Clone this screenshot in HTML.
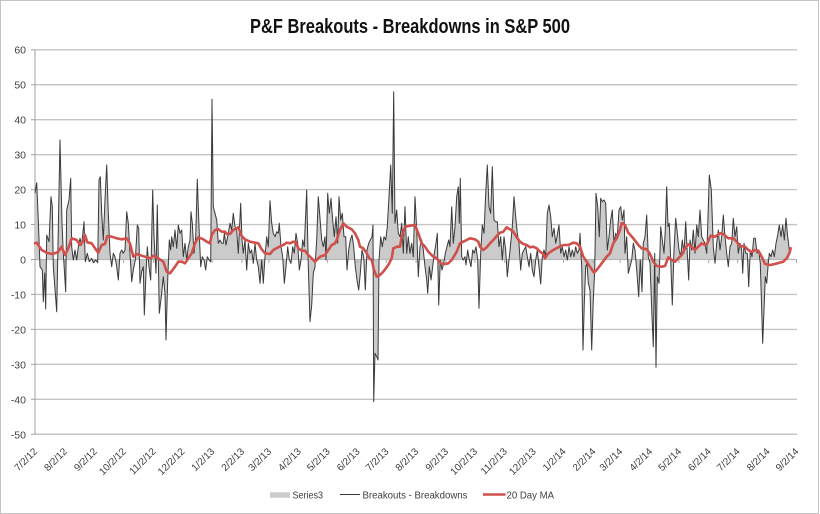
<!DOCTYPE html>
<html>
<head>
<meta charset="utf-8">
<style>
html,body{margin:0;padding:0;background:#fff;}
svg{display:block;}
text{font-family:"Liberation Sans",Arial,sans-serif;}
</style>
</head>
<body>
<svg width="820" height="514" viewBox="0 0 820 514" xmlns="http://www.w3.org/2000/svg">
<rect x="0" y="0" width="820" height="514" fill="#fff"/>
<rect x="0.5" y="0.5" width="818" height="513" fill="none" stroke="#c4c4c4" stroke-width="1"/>

<!-- Title -->
<text x="250" y="33" font-size="20" font-weight="bold" fill="#111" textLength="320" lengthAdjust="spacingAndGlyphs">P&amp;F Breakouts - Breakdowns in S&amp;P 500</text>

<!-- Gridlines -->
<g stroke="#c4c4c4" stroke-width="1.4">
<line x1="35" x2="797" y1="49.8" y2="49.8"/>
<line x1="35" x2="797" y1="84.75" y2="84.75"/>
<line x1="35" x2="797" y1="119.7" y2="119.7"/>
<line x1="35" x2="797" y1="154.65" y2="154.65"/>
<line x1="35" x2="797" y1="189.6" y2="189.6"/>
<line x1="35" x2="797" y1="224.55" y2="224.55"/>
<line x1="35" x2="797" y1="294.45" y2="294.45"/>
<line x1="35" x2="797" y1="329.4" y2="329.4"/>
<line x1="35" x2="797" y1="364.35" y2="364.35"/>
<line x1="35" x2="797" y1="399.3" y2="399.3"/>
<line x1="35" x2="797" y1="434.25" y2="434.25"/>
</g>

<!-- Y axis -->
<line x1="35" x2="35" y1="49.8" y2="434.25" stroke="#a0a0a0" stroke-width="1"/>
<g stroke="#a0a0a0" stroke-width="1">
<line x1="31" x2="35" y1="49.8" y2="49.8"/>
<line x1="31" x2="35" y1="84.75" y2="84.75"/>
<line x1="31" x2="35" y1="119.7" y2="119.7"/>
<line x1="31" x2="35" y1="154.65" y2="154.65"/>
<line x1="31" x2="35" y1="189.6" y2="189.6"/>
<line x1="31" x2="35" y1="224.55" y2="224.55"/>
<line x1="31" x2="35" y1="259.5" y2="259.5"/>
<line x1="31" x2="35" y1="294.45" y2="294.45"/>
<line x1="31" x2="35" y1="329.4" y2="329.4"/>
<line x1="31" x2="35" y1="364.35" y2="364.35"/>
<line x1="31" x2="35" y1="399.3" y2="399.3"/>
<line x1="31" x2="35" y1="434.25" y2="434.25"/>
</g>
<g font-size="10.5" fill="#404040" text-anchor="end">
<text x="26" y="53.5">60</text>
<text x="26" y="88.5">50</text>
<text x="26" y="123.5">40</text>
<text x="26" y="158.5">30</text>
<text x="26" y="193.5">20</text>
<text x="26" y="228.5">10</text>
<text x="26" y="263.5">0</text>
<text x="26" y="298.5">-10</text>
<text x="26" y="333.5">-20</text>
<text x="26" y="368.5">-30</text>
<text x="26" y="403.5">-40</text>
<text x="26" y="438.5">-50</text>
</g>

<!-- Series3 area -->
<path fill="#cbcbcb" stroke="none" d="M35,259.5 L35,193.3 36.7,182.7 38.3,220 40,266.7 42.3,270 43.3,301.7 44.7,273 45.7,309 46.7,235 49,241.7 51,196.7 52.3,206.7 53.3,266.7 56.7,311.7 60,140 62,223.3 63.3,253.3 65.7,291.7 66.7,210 69,200 70.7,178.3 71.7,246.7 73.3,260 75,250 76.7,260 78.3,246.7 80,238.3 81.7,245 84,221.7 85.3,261.7 87.3,253.3 89.3,261.7 91.7,258.3 93.3,262.7 95.7,260 97.7,262.7 99,180 100.3,176.7 101.7,213.3 103.3,240 105,200 106.7,165 108.3,213.3 110,253.3 111.7,266.7 113.3,253.3 115,256.7 116.7,266.7 118.3,280 120,253.3 121.7,250 123.3,253.3 125,250 126.7,211.7 128.3,223.3 130,253.3 131.7,281.7 133.3,270 135.3,260 137.3,225 138.7,228.3 140,283.3 141.7,271.7 143.3,266.7 144.3,315 146,273.3 147.3,246.7 149,266.7 150.7,280 152.7,190 154,236.7 156,273.3 157.3,205 159.3,313.3 161.7,293.3 163.3,276.7 165,293.3 166,340 167.7,280 169.3,240 170.7,250 171.7,236.7 173.3,246.7 175,230 176.7,248.3 178.3,225 180,233.3 181.7,230 183.3,256.7 185,243.3 186.7,260 188.3,246.7 190,240 191,211.7 192.3,223.3 194,253.3 195.7,236.7 197.3,179.3 199,226.7 200.7,266.7 202.3,256.7 204,260 205.7,270 207.3,256.7 209,260 210.7,261.7 212,99.3 213.3,206.7 215,213.3 216.7,220 218.3,243.3 220,240 221.7,243.3 223.3,243.3 224.3,233.3 226,245 228.3,233.3 230,223.3 231.7,230 233.3,213.3 235,226.7 236.7,230 238.3,253.3 240.7,203.3 242,240 243.3,253.3 245,240 246.7,270 248.3,243.3 250,253.3 251.7,250 253.3,263.3 255,243.3 256.7,260 258.3,266.7 260,283.3 261.7,260 263.3,283.3 265,256.7 266.7,236.7 268.3,246.7 270,200.7 271.7,223.3 273.3,233.3 275,236.7 276.7,231.7 278.3,233.3 279.3,223.3 281,246.7 282.7,256.7 284.3,283.3 286,266.7 287.7,246.7 289.3,260 291,263.3 292.7,246.7 294.3,253.3 296,233.3 297.7,243.3 299.3,270 301,260 302.7,240 304.3,246.7 306.7,190 308.3,266.7 310,321.7 311.7,305 313.3,273.3 315,266.7 316.7,240 318.3,196.7 321.7,240 323.3,246.7 325,236.7 326,260 327.7,193.3 329.3,213.3 331,198.3 332.7,220 334.3,236.7 336,216.7 337.7,243.3 339,196.7 340.7,220 342.3,213.3 344,236.7 345.7,236.7 347,270 348.7,250 350.3,240 352,235 353.7,246.7 355.3,266.7 357,280 358.7,290 360.3,273.3 362,250 363.7,256.7 365.3,290 367,250 368.7,243.3 370.3,240 372,236.7 373,225 373.7,401.7 375,353.3 376.7,356.7 378,360 379,260 380.7,236.7 382.3,246.7 384,236.7 385.7,240 387.3,226.7 389,196.7 390.7,165 392.3,213.3 393.7,91.7 395,223.3 396.7,210 398.3,233.3 400,236.7 401.7,223.3 403.3,253.3 405,206.7 406.7,253.3 408.3,236.7 410,253.3 411.7,243.3 413.3,256.7 415,196.7 416.7,230 418.3,276.7 420,246.7 421.7,240 423.3,250 425,266.7 426.7,280 427.7,293.3 429.3,266.7 431,280 432.7,266.7 434.3,253.3 436,243.3 437.3,233.3 438.7,305 440.3,260 442,270 443.7,263.3 445.3,253.3 447,246.7 448.7,240 450,246.7 451.7,206.7 453.3,243.3 455,226.7 456.7,196.7 458.3,186.7 459.3,223.3 460.3,178.3 461.7,256.7 463.3,260 465,256.7 466,265 467.7,250 469.3,260 471,266.7 472.7,250 474.3,253.3 476,246.7 477.7,260 479,308.3 480.7,253.3 482.3,225 484,233.3 485.7,193.3 487.3,165 489,206.7 490.7,213.3 492.3,166.7 494,220 495.7,221.7 497.3,221.7 499,246.7 500.7,236.7 502.3,260 504,236.7 505.7,250 507.3,276.7 509,260 510.7,243.3 512.3,226.7 514,196.7 515.7,216.7 517.3,233.3 519,243.3 520.7,270 522.3,253.3 524,250 525.7,246.7 527.3,256.7 529,266.7 530.7,253.3 532.3,270 534,276.7 535.7,260 537.3,250 539,266.7 540.7,284 542.3,256.7 544,250 545.7,256.7 547.3,213.3 549,205 550.7,216.7 552.3,236.7 554,228.3 555.7,243.3 557.3,235 559,225 560.7,253.3 562.3,246.7 564,256.7 565.7,250 567.3,260 569,246.7 570.7,256.7 572.3,250 574,256.7 575.7,246.7 577.3,253.3 579,250 580,233.3 581.7,266.7 583,350 584.3,303.3 585.7,266.7 587,263.3 588.3,283.3 590,290 591.7,350 593.3,300 594.7,270 596,193.3 597.7,206.7 599.3,236.7 600.7,198.3 602.3,201.7 604,200 605.7,203.3 607.3,250 609,236.7 610.7,220 612.3,210 614,243.3 615.7,233.3 617.3,236.7 619,210 620.7,206.7 622.3,220 624,210 625,253.3 626.7,236.7 628.3,273.3 630,266.7 631.7,260 633.3,243.3 635,250 636.7,270 638.7,296.7 640.3,260 642,291.7 643.3,243.3 645,236.7 646.7,215 648.3,256.7 650,263.3 652,316.7 653.3,346.7 654.7,253.3 656,367.3 657.3,276.7 659,283.3 660.7,226.7 662.3,240 664,253.3 665.3,230 666.7,186.7 668,226.7 669.3,223.3 670.7,260 672.3,305 674,250 675.7,218.3 677.3,233.3 679,250 680.7,256.7 682.3,240 684,253.3 685.7,221.7 687.3,253.3 688.7,280 690,240 691.7,250 693.3,230 695,253.3 696.7,225 698.3,236.7 700,210 701.7,236.7 703.3,240 705,243.3 706.7,253.3 707.7,226.7 709.3,175 711.3,190 713.3,246.7 715,263.3 716.7,243.3 718.3,230 720,250 721.7,236.7 723.3,215 725,236.7 726.7,253.3 728.3,266.7 730,246.7 731.7,243.3 733.3,218.3 735,236.7 736.7,226.7 738.3,253.3 740,243.3 741.7,250 742.7,273.3 744,243.3 745.7,253.3 747.3,253.3 748.7,286.7 750.3,250 752,256.7 753.7,238.3 755.3,238.3 757,253.3 758.7,250 760.3,263.3 761.3,296.7 762.7,343.3 764,310 765.3,276.7 766.7,283.3 768,266.7 769.3,253.3 771,256.7 772.7,250 774.3,256.7 776,243.3 777.7,235 779.3,225 781,236.7 782.7,225 784.3,240 786,218.3 787.7,236.7 789.3,250 L789.3,259.5 Z"/>

<!-- Zero axis line and ticks -->
<line x1="35" x2="797" y1="259.5" y2="259.5" stroke="#b8b8b8" stroke-width="1.2"/>
<g stroke="#a8a8a8" stroke-width="1">
<line x1="35" x2="35" y1="259.5" y2="263"/>
<line x1="64.8" x2="64.8" y1="259.5" y2="263"/>
<line x1="94.7" x2="94.7" y1="259.5" y2="263"/>
<line x1="123.6" x2="123.6" y1="259.5" y2="263"/>
<line x1="153.4" x2="153.4" y1="259.5" y2="263"/>
<line x1="182.3" x2="182.3" y1="259.5" y2="263"/>
<line x1="212.1" x2="212.1" y1="259.5" y2="263"/>
<line x1="242" x2="242" y1="259.5" y2="263"/>
<line x1="268.9" x2="268.9" y1="259.5" y2="263"/>
<line x1="298.7" x2="298.7" y1="259.5" y2="263"/>
<line x1="327.6" x2="327.6" y1="259.5" y2="263"/>
<line x1="357.4" x2="357.4" y1="259.5" y2="263"/>
<line x1="386.3" x2="386.3" y1="259.5" y2="263"/>
<line x1="416.1" x2="416.1" y1="259.5" y2="263"/>
<line x1="446" x2="446" y1="259.5" y2="263"/>
<line x1="474.9" x2="474.9" y1="259.5" y2="263"/>
<line x1="504.7" x2="504.7" y1="259.5" y2="263"/>
<line x1="533.6" x2="533.6" y1="259.5" y2="263"/>
<line x1="563.4" x2="563.4" y1="259.5" y2="263"/>
<line x1="593.3" x2="593.3" y1="259.5" y2="263"/>
<line x1="620.2" x2="620.2" y1="259.5" y2="263"/>
<line x1="650" x2="650" y1="259.5" y2="263"/>
<line x1="678.9" x2="678.9" y1="259.5" y2="263"/>
<line x1="708.7" x2="708.7" y1="259.5" y2="263"/>
<line x1="737.6" x2="737.6" y1="259.5" y2="263"/>
<line x1="767.4" x2="767.4" y1="259.5" y2="263"/>
<line x1="796.5" x2="796.5" y1="259.5" y2="263"/>
</g>

<!-- Breakouts - Breakdowns line -->
<polyline fill="none" stroke="#3a3a3a" stroke-width="1" stroke-linejoin="round" points="35,193.3 36.7,182.7 38.3,220 40,266.7 42.3,270 43.3,301.7 44.7,273 45.7,309 46.7,235 49,241.7 51,196.7 52.3,206.7 53.3,266.7 56.7,311.7 60,140 62,223.3 63.3,253.3 65.7,291.7 66.7,210 69,200 70.7,178.3 71.7,246.7 73.3,260 75,250 76.7,260 78.3,246.7 80,238.3 81.7,245 84,221.7 85.3,261.7 87.3,253.3 89.3,261.7 91.7,258.3 93.3,262.7 95.7,260 97.7,262.7 99,180 100.3,176.7 101.7,213.3 103.3,240 105,200 106.7,165 108.3,213.3 110,253.3 111.7,266.7 113.3,253.3 115,256.7 116.7,266.7 118.3,280 120,253.3 121.7,250 123.3,253.3 125,250 126.7,211.7 128.3,223.3 130,253.3 131.7,281.7 133.3,270 135.3,260 137.3,225 138.7,228.3 140,283.3 141.7,271.7 143.3,266.7 144.3,315 146,273.3 147.3,246.7 149,266.7 150.7,280 152.7,190 154,236.7 156,273.3 157.3,205 159.3,313.3 161.7,293.3 163.3,276.7 165,293.3 166,340 167.7,280 169.3,240 170.7,250 171.7,236.7 173.3,246.7 175,230 176.7,248.3 178.3,225 180,233.3 181.7,230 183.3,256.7 185,243.3 186.7,260 188.3,246.7 190,240 191,211.7 192.3,223.3 194,253.3 195.7,236.7 197.3,179.3 199,226.7 200.7,266.7 202.3,256.7 204,260 205.7,270 207.3,256.7 209,260 210.7,261.7 212,99.3 213.3,206.7 215,213.3 216.7,220 218.3,243.3 220,240 221.7,243.3 223.3,243.3 224.3,233.3 226,245 228.3,233.3 230,223.3 231.7,230 233.3,213.3 235,226.7 236.7,230 238.3,253.3 240.7,203.3 242,240 243.3,253.3 245,240 246.7,270 248.3,243.3 250,253.3 251.7,250 253.3,263.3 255,243.3 256.7,260 258.3,266.7 260,283.3 261.7,260 263.3,283.3 265,256.7 266.7,236.7 268.3,246.7 270,200.7 271.7,223.3 273.3,233.3 275,236.7 276.7,231.7 278.3,233.3 279.3,223.3 281,246.7 282.7,256.7 284.3,283.3 286,266.7 287.7,246.7 289.3,260 291,263.3 292.7,246.7 294.3,253.3 296,233.3 297.7,243.3 299.3,270 301,260 302.7,240 304.3,246.7 306.7,190 308.3,266.7 310,321.7 311.7,305 313.3,273.3 315,266.7 316.7,240 318.3,196.7 321.7,240 323.3,246.7 325,236.7 326,260 327.7,193.3 329.3,213.3 331,198.3 332.7,220 334.3,236.7 336,216.7 337.7,243.3 339,196.7 340.7,220 342.3,213.3 344,236.7 345.7,236.7 347,270 348.7,250 350.3,240 352,235 353.7,246.7 355.3,266.7 357,280 358.7,290 360.3,273.3 362,250 363.7,256.7 365.3,290 367,250 368.7,243.3 370.3,240 372,236.7 373,225 373.7,401.7 375,353.3 376.7,356.7 378,360 379,260 380.7,236.7 382.3,246.7 384,236.7 385.7,240 387.3,226.7 389,196.7 390.7,165 392.3,213.3 393.7,91.7 395,223.3 396.7,210 398.3,233.3 400,236.7 401.7,223.3 403.3,253.3 405,206.7 406.7,253.3 408.3,236.7 410,253.3 411.7,243.3 413.3,256.7 415,196.7 416.7,230 418.3,276.7 420,246.7 421.7,240 423.3,250 425,266.7 426.7,280 427.7,293.3 429.3,266.7 431,280 432.7,266.7 434.3,253.3 436,243.3 437.3,233.3 438.7,305 440.3,260 442,270 443.7,263.3 445.3,253.3 447,246.7 448.7,240 450,246.7 451.7,206.7 453.3,243.3 455,226.7 456.7,196.7 458.3,186.7 459.3,223.3 460.3,178.3 461.7,256.7 463.3,260 465,256.7 466,265 467.7,250 469.3,260 471,266.7 472.7,250 474.3,253.3 476,246.7 477.7,260 479,308.3 480.7,253.3 482.3,225 484,233.3 485.7,193.3 487.3,165 489,206.7 490.7,213.3 492.3,166.7 494,220 495.7,221.7 497.3,221.7 499,246.7 500.7,236.7 502.3,260 504,236.7 505.7,250 507.3,276.7 509,260 510.7,243.3 512.3,226.7 514,196.7 515.7,216.7 517.3,233.3 519,243.3 520.7,270 522.3,253.3 524,250 525.7,246.7 527.3,256.7 529,266.7 530.7,253.3 532.3,270 534,276.7 535.7,260 537.3,250 539,266.7 540.7,284 542.3,256.7 544,250 545.7,256.7 547.3,213.3 549,205 550.7,216.7 552.3,236.7 554,228.3 555.7,243.3 557.3,235 559,225 560.7,253.3 562.3,246.7 564,256.7 565.7,250 567.3,260 569,246.7 570.7,256.7 572.3,250 574,256.7 575.7,246.7 577.3,253.3 579,250 580,233.3 581.7,266.7 583,350 584.3,303.3 585.7,266.7 587,263.3 588.3,283.3 590,290 591.7,350 593.3,300 594.7,270 596,193.3 597.7,206.7 599.3,236.7 600.7,198.3 602.3,201.7 604,200 605.7,203.3 607.3,250 609,236.7 610.7,220 612.3,210 614,243.3 615.7,233.3 617.3,236.7 619,210 620.7,206.7 622.3,220 624,210 625,253.3 626.7,236.7 628.3,273.3 630,266.7 631.7,260 633.3,243.3 635,250 636.7,270 638.7,296.7 640.3,260 642,291.7 643.3,243.3 645,236.7 646.7,215 648.3,256.7 650,263.3 652,316.7 653.3,346.7 654.7,253.3 656,367.3 657.3,276.7 659,283.3 660.7,226.7 662.3,240 664,253.3 665.3,230 666.7,186.7 668,226.7 669.3,223.3 670.7,260 672.3,305 674,250 675.7,218.3 677.3,233.3 679,250 680.7,256.7 682.3,240 684,253.3 685.7,221.7 687.3,253.3 688.7,280 690,240 691.7,250 693.3,230 695,253.3 696.7,225 698.3,236.7 700,210 701.7,236.7 703.3,240 705,243.3 706.7,253.3 707.7,226.7 709.3,175 711.3,190 713.3,246.7 715,263.3 716.7,243.3 718.3,230 720,250 721.7,236.7 723.3,215 725,236.7 726.7,253.3 728.3,266.7 730,246.7 731.7,243.3 733.3,218.3 735,236.7 736.7,226.7 738.3,253.3 740,243.3 741.7,250 742.7,273.3 744,243.3 745.7,253.3 747.3,253.3 748.7,286.7 750.3,250 752,256.7 753.7,238.3 755.3,238.3 757,253.3 758.7,250 760.3,263.3 761.3,296.7 762.7,343.3 764,310 765.3,276.7 766.7,283.3 768,266.7 769.3,253.3 771,256.7 772.7,250 774.3,256.7 776,243.3 777.7,235 779.3,225 781,236.7 782.7,225 784.3,240 786,218.3 787.7,236.7 789.3,250"/>

<!-- 20 Day MA -->
<polyline fill="none" stroke="#d0504c" stroke-width="2.6" stroke-linejoin="round" stroke-linecap="round" points="35,243.3 36.7,242.7 41.7,250 46.7,252.7 51.7,254 55,253.3 58.3,251.7 61.7,246.7 65,255 68.3,248.3 71.7,238.3 76.7,240 80,245 82.7,241.7 85,235 87.3,242.3 91.7,243.3 95,248.3 98.3,252.7 101.7,245 105,244 107.3,236 111.7,236.7 116.7,238.3 121.7,239.3 126.7,238.3 130,243.3 133.3,256.7 136.7,254 141.7,255.7 146.7,257.3 150.7,258.3 153.3,255.7 158.3,258.3 163.3,261.7 166.7,271.7 170,273.3 175,266.7 178.3,261.7 181.7,261.7 185,263.3 188.3,258.3 191.7,253.3 195,243.3 198.3,237.3 203.3,239.3 206.7,241.7 210,243.3 211.7,235 215,230 218.3,229.3 221.7,231.7 225,231.7 226.7,234 230,234 233.3,230 236.7,228.3 238.3,227.3 241.7,236 245,239.3 250,241.7 255,242.7 258.3,243.3 261.7,249.3 265,253.3 270,254 273.3,250 278.3,247.3 283.3,245 286.7,242.7 290,243.3 293.3,241.7 296,242.3 298.3,248.3 301.7,250.7 305,250.7 308.3,255 311.7,258.3 315,261.7 320,256.7 325,255 328.3,250 331.7,245 335,243.3 336.7,240 340,230 343.3,223.3 346.7,226.7 351.7,229.3 355,233.3 358.3,240 360,246.7 363.3,248.3 366.7,253.3 369.3,258.3 371.7,260 374,270 376.7,276.7 380,275 383.3,271.7 388.3,265 391.7,258.3 393.3,248.3 397.3,246.7 400,246.7 401.7,236.7 405,226.7 410,225.7 415,225 418.3,233.3 421.7,243.3 425,246.7 428.3,251.7 433.3,256.7 436.7,258.3 440.7,263.3 443.3,264.3 448.3,263.3 451.7,260 456.7,251.7 460,243.3 463.3,241.7 466.7,240 470,238.3 475,239.3 478.3,241.7 480,246.7 483.3,250 486.7,247.3 490,243.3 493.3,240 496.7,236 500,232.7 503.3,231.7 506.7,227.3 510,229.3 513.3,231.7 516.7,237.3 520,241.7 523.3,244 526.7,245 530,247.3 533.3,246.7 536.7,248.3 540,251.7 543.3,254 545,258.3 548.3,253.3 553.3,250 558.3,247.3 563.3,245 568.3,245 573.3,242.7 576.7,243.3 580,246.7 583.3,256.7 586.7,261.7 590,266.7 594,272.7 596.7,270 601.7,263.3 606.7,256.7 610,253.3 613.3,243.3 616.7,238.3 620,230 621.7,223.3 622.7,223.3 625,225 628.3,232.7 633.3,238.3 638.3,245 641.7,248.3 646.7,249.3 650,254 653.3,261.7 656.7,266 661.7,266.7 665,266 668.3,257.3 671.7,260 675,261.7 678.3,258.3 681.7,255 685,248.3 688.3,244.3 691.7,246.7 695,250 698.3,246.7 701.7,243.3 705,245 707.3,243.3 710.7,235.7 715,236.7 720,233.3 723.3,234 728.3,238.3 733.3,238.3 736.7,241.7 740,246 745,246.7 748.3,250 751.7,252 755,250 758.3,250.7 761.7,256.7 765,264 770,265 775,264 779.3,262.7 783.3,261.7 786.7,258.3 789.3,253.3 790.7,248.3"/>

<!-- X axis labels -->
<g font-size="10" fill="#404040" text-anchor="end">
<text transform="translate(38,452) rotate(-45)">7/2/12</text>
<text transform="translate(67.8,452) rotate(-45)">8/2/12</text>
<text transform="translate(97.7,452) rotate(-45)">9/2/12</text>
<text transform="translate(126.6,452) rotate(-45)">10/2/12</text>
<text transform="translate(156.4,452) rotate(-45)">11/2/12</text>
<text transform="translate(185.3,452) rotate(-45)">12/2/12</text>
<text transform="translate(215.1,452) rotate(-45)">1/2/13</text>
<text transform="translate(245,452) rotate(-45)">2/2/13</text>
<text transform="translate(271.9,452) rotate(-45)">3/2/13</text>
<text transform="translate(301.7,452) rotate(-45)">4/2/13</text>
<text transform="translate(330.6,452) rotate(-45)">5/2/13</text>
<text transform="translate(360.4,452) rotate(-45)">6/2/13</text>
<text transform="translate(389.3,452) rotate(-45)">7/2/13</text>
<text transform="translate(419.1,452) rotate(-45)">8/2/13</text>
<text transform="translate(449,452) rotate(-45)">9/2/13</text>
<text transform="translate(477.9,452) rotate(-45)">10/2/13</text>
<text transform="translate(507.7,452) rotate(-45)">11/2/13</text>
<text transform="translate(536.6,452) rotate(-45)">12/2/13</text>
<text transform="translate(566.4,452) rotate(-45)">1/2/14</text>
<text transform="translate(596.3,452) rotate(-45)">2/2/14</text>
<text transform="translate(623.2,452) rotate(-45)">3/2/14</text>
<text transform="translate(653,452) rotate(-45)">4/2/14</text>
<text transform="translate(681.9,452) rotate(-45)">5/2/14</text>
<text transform="translate(711.7,452) rotate(-45)">6/2/14</text>
<text transform="translate(740.6,452) rotate(-45)">7/2/14</text>
<text transform="translate(770.4,452) rotate(-45)">8/2/14</text>
<text transform="translate(799.3,452) rotate(-45)">9/2/14</text>
</g>

<!-- Legend -->
<rect x="270" y="492.3" width="20" height="5.5" fill="#cbcbcb"/>
<text x="292.5" y="498.5" font-size="10" fill="#404040" textLength="30.5" lengthAdjust="spacingAndGlyphs">Series3</text>
<line x1="340" x2="360" y1="494.5" y2="494.5" stroke="#3a3a3a" stroke-width="1"/>
<text x="362.5" y="498.5" font-size="10" fill="#404040" textLength="105" lengthAdjust="spacingAndGlyphs">Breakouts - Breakdowns</text>
<line x1="483" x2="505.5" y1="494.5" y2="494.5" stroke="#d0504c" stroke-width="2.6"/>
<text x="506.5" y="498.5" font-size="10" fill="#404040" textLength="47.5" lengthAdjust="spacingAndGlyphs">20 Day MA</text>
</svg>
</body>
</html>
